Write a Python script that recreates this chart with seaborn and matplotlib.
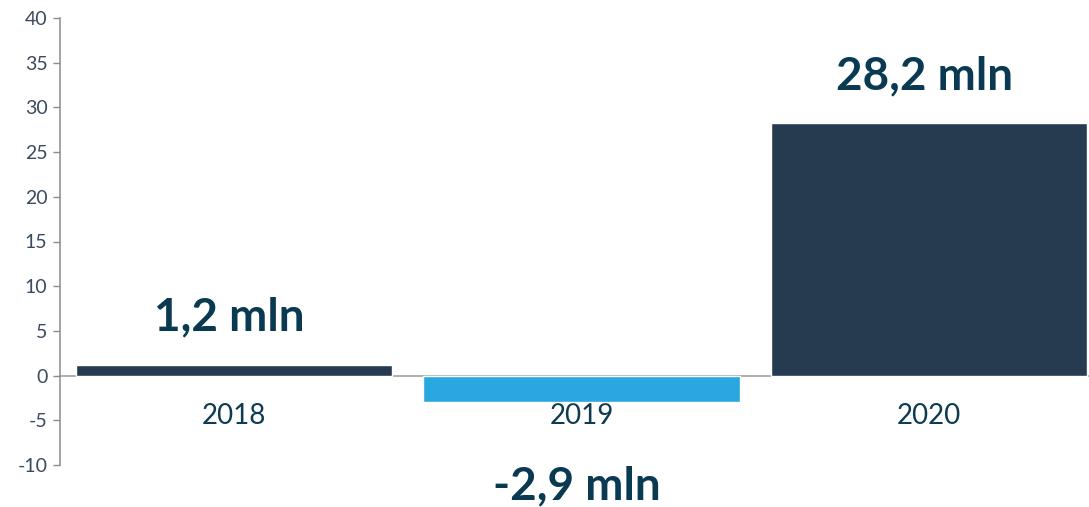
import matplotlib
matplotlib.use("Agg")
import matplotlib.pyplot as plt
import seaborn as sns

years = ["2018", "2019", "2020"]
values = [1.2, -2.9, 28.2]
labels = ["1,2 mln", "-2,9 mln", "28,2 mln"]
bar_colors = ["#263a50", "#29a8e0", "#263a50"]
y_ticks = list(range(-10, 41, 5))

sns.set_style("white")
plt.rcParams["font.family"] = ["Lato", "DejaVu Sans"]

fig = plt.figure(figsize=(10.89, 5.07), dpi=100)
ax = fig.add_axes([60 / 1089, 42 / 507, 1043 / 1089, 447 / 507])

sns.barplot(x=years, y=values, hue=years, palette=bar_colors, legend=False,
            width=0.91, saturation=1, ax=ax)

ax.set_xlim(-0.5, 2.5)
ax.set_ylim(-10, 40)
ax.set_yticks(y_ticks)
ax.set_yticklabels([str(t) for t in y_ticks], color="#3b4a5e", fontsize=14)

for s in ["top", "right"]:
    ax.spines[s].set_visible(False)
ax.spines["left"].set_color("#8c8c8c")
ax.spines["left"].set_linewidth(1.1)
ax.spines["bottom"].set_position(("data", 0))
ax.spines["bottom"].set_color("#9a9a9a")
ax.spines["bottom"].set_linewidth(1.1)
ax.spines["bottom"].set_zorder(0)

ax.tick_params(axis="y", direction="out", length=5, width=1, color="#8c8c8c", pad=4, left=True)
ax.tick_params(axis="x", length=0, pad=20, labelsize=20, labelcolor="#0d3b50")

# value labels
for i, (v, lab) in enumerate(zip(values, labels)):
    off = 47 if v >= 0 else -85
    ax.annotate(lab, xy=(i, v), xytext=(-5, off), textcoords="offset pixels",
                ha="center", va="center", fontsize=33, fontweight="bold",
                color="#0a3a52", annotation_clip=False)

ax.set_xlabel("")
ax.set_ylabel("")
fig.savefig("out.png", dpi=100)
